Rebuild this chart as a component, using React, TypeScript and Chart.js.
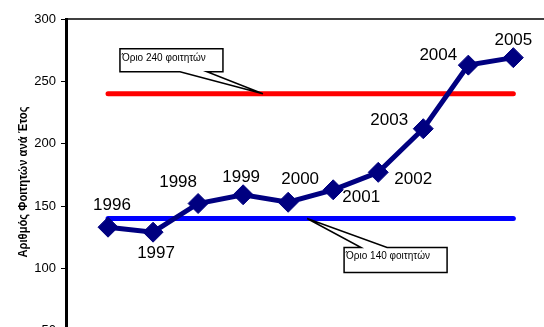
import React, { useEffect, useRef } from 'react';
import { Chart, registerables } from 'chart.js';

Chart.register(...registerables);

// ---- Data ----
const years = [1996, 1997, 1998, 1999, 2000, 2001, 2002, 2003, 2004, 2005];
const students = [133, 129, 152, 159, 153, 163, 177, 212, 263, 269];
const upperLimit = 240;
const lowerLimit = 140;
const yMin = 0;
const yMax = 300;
const yStep = 50;
const axisTitle = 'Αριθμός Φοιτητών ανά Έτος';
const upperLabel = 'Όριο 240 φοιτητών';
const lowerLabel = 'Όριο 140 φοιτητών';

// ---- Styling (label offsets relative to each point, in px) ----
const labelOffsets: [number, number][] = [
  [4, -22], [3, 21], [-20, -21], [-2, -17], [12, -23],
  [28, 8], [35, 7], [-34, -8], [-30, -10], [0, -17],
];

const FONT = '"Liberation Sans", Arial, sans-serif';

type Callout = {
  text: string;
  tipYear: number;
  tipValue: number;
  box: { dx: number; dy: number; w: number; h: number };
  wedge: [number, number];
  side: 'top' | 'bottom';
};

const callouts: Callout[] = [
  { text: upperLabel, tipYear: 1999.44, tipValue: upperLimit, box: { dx: -143, dy: -45, w: 103, h: 23 }, wedge: [-83, -56], side: 'bottom' },
  { text: lowerLabel, tipYear: 2000.42, tipValue: lowerLimit, box: { dx: 37, dy: 29, w: 103, h: 25 }, wedge: [54, 80], side: 'top' },
];

const overlayPlugin = {
  id: 'overlay',
  afterDatasetsDraw(chart: any) {
    const ctx = chart.ctx;
    const xs = chart.scales.x;
    const ys = chart.scales.y;
    const area = chart.chartArea;
    ctx.save();
    // top border
    ctx.strokeStyle = '#000';
    ctx.lineWidth = 1.5;
    ctx.beginPath();
    ctx.moveTo(area.left, area.top);
    ctx.lineTo(area.right, area.top);
    ctx.stroke();

    // data labels
    const meta = chart.getDatasetMeta(0);
    ctx.fillStyle = '#000';
    ctx.font = `17px ${FONT}`;
    ctx.textAlign = 'center';
    ctx.textBaseline = 'middle';
    meta.data.forEach((pt: any, i: number) => {
      const [dx, dy] = labelOffsets[i];
      ctx.fillText(String(years[i]), pt.x + dx, pt.y + dy);
    });

    // callouts
    callouts.forEach((c) => {
      const tx = xs.getPixelForValue(c.tipYear);
      const ty = ys.getPixelForValue(c.tipValue);
      const l = tx + c.box.dx;
      const t = ty + c.box.dy;
      const r = l + c.box.w;
      const b = t + c.box.h;
      const w1 = tx + c.wedge[0];
      const w2 = tx + c.wedge[1];
      ctx.beginPath();
      if (c.side === 'bottom') {
        ctx.moveTo(l, t);
        ctx.lineTo(r, t);
        ctx.lineTo(r, b);
        ctx.lineTo(w2, b);
        ctx.lineTo(tx, ty);
        ctx.lineTo(w1, b);
        ctx.lineTo(l, b);
        ctx.closePath();
      } else {
        ctx.moveTo(l, t);
        ctx.lineTo(w1, t);
        ctx.lineTo(tx, ty);
        ctx.lineTo(w2, t);
        ctx.lineTo(r, t);
        ctx.lineTo(r, b);
        ctx.lineTo(l, b);
        ctx.closePath();
      }
      ctx.fillStyle = '#fff';
      ctx.fill();
      ctx.strokeStyle = '#000';
      ctx.lineWidth = 1.5;
      ctx.lineJoin = 'miter';
      ctx.stroke();
      ctx.fillStyle = '#000';
      ctx.font = `10px ${FONT}`;
      ctx.textAlign = 'left';
      ctx.textBaseline = 'middle';
      ctx.fillText(c.text, l + 2, t + 9);
    });

    // y axis title (12px bold, fitted to the reference length)
    ctx.save();
    ctx.font = `bold 12px ${FONT}`;
    const tw = ctx.measureText(axisTitle).width;
    const targetLen = 151;
    ctx.translate(27, 182);
    ctx.rotate(-Math.PI / 2);
    ctx.scale(Math.min(1, targetLen / tw), 1);
    ctx.textAlign = 'center';
    ctx.textBaseline = 'alphabetic';
    ctx.fillStyle = '#000';
    ctx.fillText(axisTitle, 0, 0);
    ctx.restore();

    ctx.restore();
  },
};

export default function App() {
  const ref = useRef<HTMLCanvasElement>(null);
  useEffect(() => {
    if (!ref.current) return;
    const pts = (vals: number[]) => years.map((y, i) => ({ x: y, y: vals[i] }));
    const chart = new Chart(ref.current, {
      type: 'line',
      data: {
        datasets: [
          {
            data: pts(students),
            borderColor: '#000080',
            backgroundColor: '#000080',
            borderWidth: 5,
            pointStyle: 'rectRot',
            pointRadius: 10,
            pointBorderWidth: 1,
            pointBackgroundColor: '#000080',
            pointBorderColor: '#000080',
            order: 0,
          },
          {
            data: pts(years.map(() => upperLimit)),
            borderColor: '#ff0000',
            borderWidth: 5,
            borderCapStyle: 'round',
            pointRadius: 0,
            order: 1,
          },
          {
            data: pts(years.map(() => lowerLimit)),
            borderColor: '#0000ff',
            borderWidth: 5,
            borderCapStyle: 'round',
            pointRadius: 0,
            order: 2,
          },
        ],
      },
      options: {
        animation: false,
        responsive: false,
        maintainAspectRatio: false,
        events: [],
        layout: { padding: { top: 19, bottom: 27, left: 0, right: 0 } },
        plugins: { legend: { display: false }, tooltip: { enabled: false }, title: { display: false } },
        scales: {
          x: {
            type: 'linear',
            display: false,
            min: 1996 - 42 / 45,
            max: 2006.68,
          },
          y: {
            min: yMin,
            max: yMax,
            afterFit(scale: any) {
              scale.width = 66;
            },
            ticks: {
              stepSize: yStep,
              color: '#000',
              font: { family: FONT, size: 13 },
              padding: 5,
            },
            grid: {
              drawOnChartArea: false,
              drawTicks: true,
              tickLength: 5,
              tickColor: '#000',
              tickWidth: 1,
            },
            border: { display: true, color: '#000', width: 3 },
          },
        },
      },
      plugins: [overlayPlugin],
    } as any);
    return () => chart.destroy();
  }, []);
  return (
    <div style={{ position: 'absolute', left: 0, top: 0, width: 600, height: 420, background: '#fff' }}>
      <canvas ref={ref} width={600} height={420} style={{ display: 'block' }} />
    </div>
  );
}
